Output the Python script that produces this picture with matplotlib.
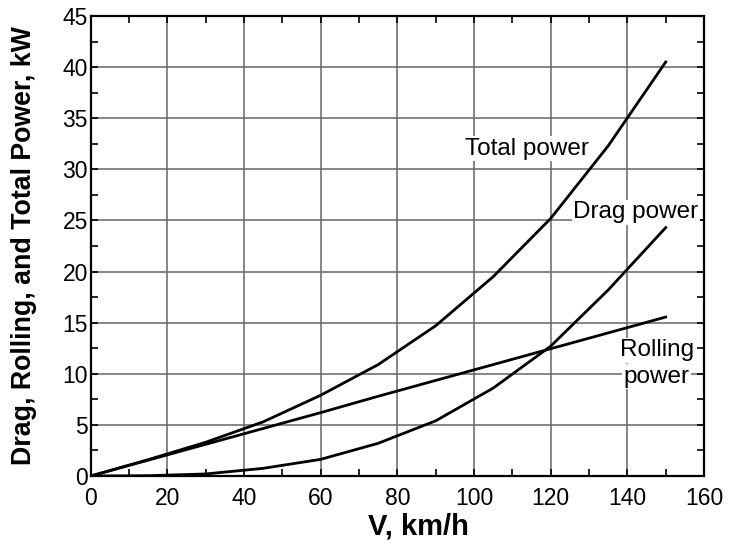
import matplotlib
matplotlib.use("Agg")
import matplotlib.pyplot as plt
from matplotlib.ticker import MultipleLocator

speed = [0, 15, 30, 45, 60, 75, 90, 105, 120, 135, 150]
total_power = [0, 1.6, 3.3, 5.3, 7.9, 10.9, 14.7, 19.5, 25.2, 32.3, 40.5]
drag_power = [0, 0.03, 0.2, 0.75, 1.63, 3.2, 5.4, 8.6, 12.7, 18.2, 24.3]
rolling_power = [0, 1.55, 3.1, 4.65, 6.2, 7.8, 9.35, 10.9, 12.45, 14.0, 15.55]

plt.rcParams['font.family'] = ['Liberation Sans', 'DejaVu Sans']

fig = plt.figure(figsize=(7.38, 5.44), dpi=100)
ax = fig.add_axes([0.1229, 0.125, 0.954 - 0.1229, 0.9706 - 0.125])

ax.grid(True, which='major', color='#666666', linewidth=1.1, zorder=0)
ax.set_axisbelow(True)

lw = 2.0
ax.plot(speed, total_power, color='black', linewidth=lw, zorder=3)
ax.plot(speed, drag_power, color='black', linewidth=lw, zorder=3)
ax.plot(speed, rolling_power, color='black', linewidth=lw, zorder=3)

box = dict(facecolor='white', edgecolor='none', pad=1.0)
ax.text(113.8, 32.0, 'Total power', fontsize=17.5, ha='center', va='center', bbox=box, zorder=2)
ax.text(142.2, 25.8, 'Drag power', fontsize=17.5, ha='center', va='center', bbox=box, zorder=2)
ax.text(147.7, 12.3, 'Rolling', fontsize=17.5, ha='center', va='center', bbox=box, zorder=2)
ax.text(147.7, 9.7, 'power', fontsize=17.5, ha='center', va='center', bbox=box, zorder=2)

ax.set_xlim(0, 160)
ax.set_ylim(0, 45)
ax.xaxis.set_major_locator(MultipleLocator(20))
ax.xaxis.set_minor_locator(MultipleLocator(10))
ax.yaxis.set_major_locator(MultipleLocator(5))
ax.yaxis.set_minor_locator(MultipleLocator(2.5))
ax.tick_params(which='both', direction='in', top=True, right=True, width=1.2,
               labelsize=16.5, colors='black')
ax.tick_params(which='both', length=5)
ax.tick_params(axis='x', which='major', pad=8)
ax.tick_params(axis='y', which='major', pad=2)

for s in ax.spines.values():
    s.set_linewidth(1.6)
    s.set_color('black')

ax.set_xlabel('V, km/h', fontsize=21, fontweight='bold')
ax.xaxis.set_label_coords(0.535, -0.079)
ax.set_ylabel('Drag, Rolling, and Total Power, kW', fontsize=19.3, fontweight='bold')
ax.yaxis.set_label_coords(-0.088, 0.5)

fig.savefig('out.png', dpi=100)
